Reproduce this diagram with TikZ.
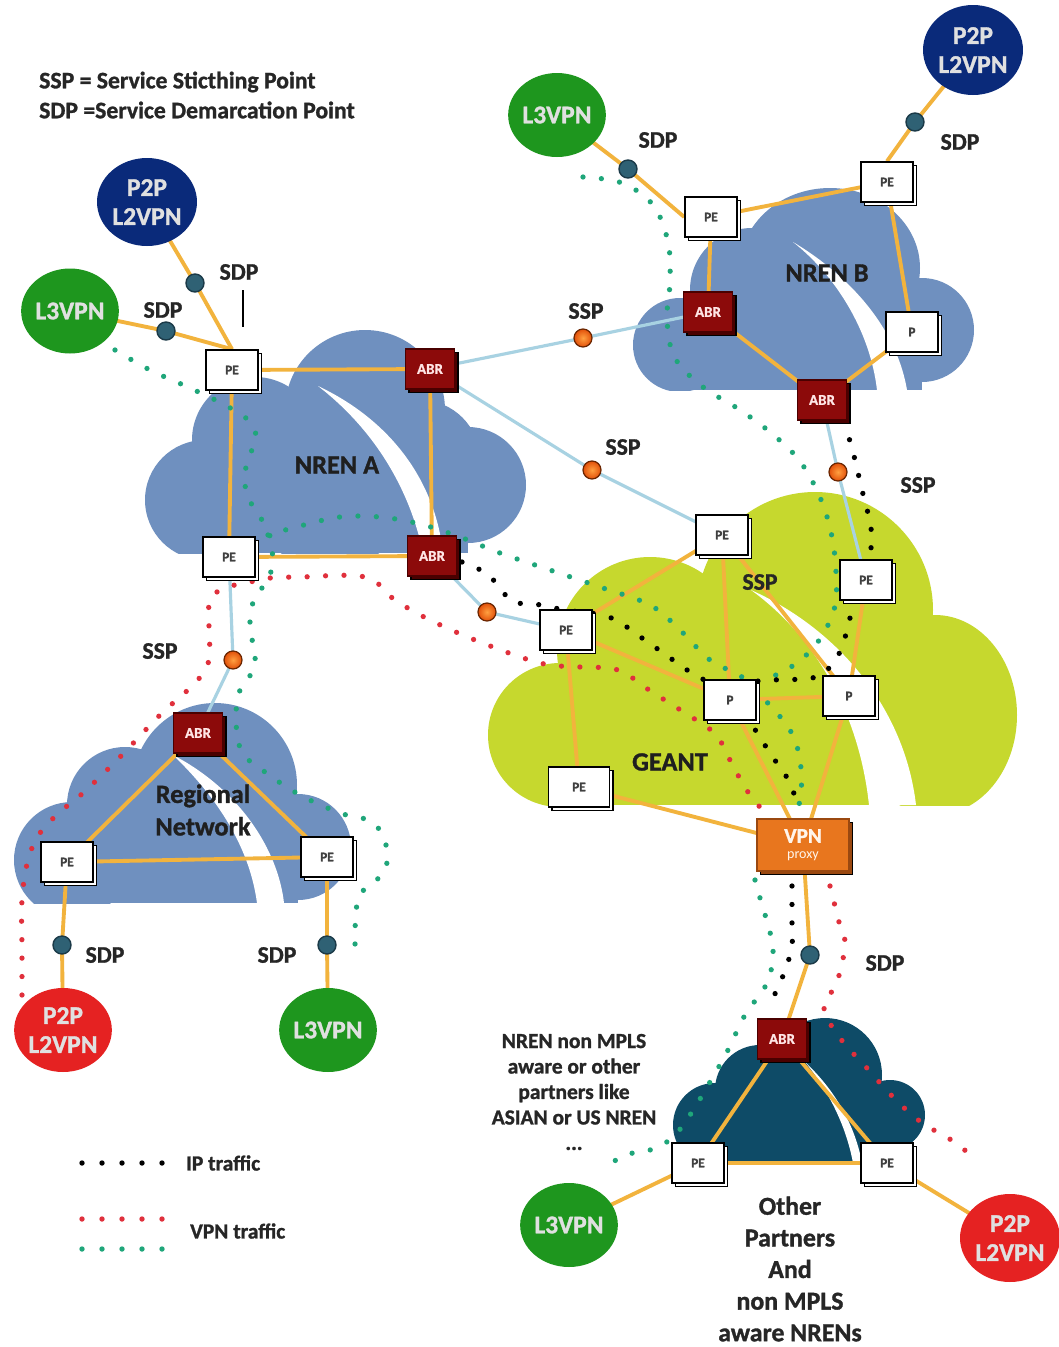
\documentclass[tikz,border=0pt]{standalone}
\usepackage{fontspec}
\setmainfont{Carlito}[BoldFont={Carlito Bold}, BoldFeatures={FakeBold=1.2}]
\usetikzlibrary{shapes.geometric,shadows}
\definecolor{cloudblue}{HTML}{6F90BF}
\definecolor{geant}{HTML}{C6D82E}
\definecolor{darkcloud}{HTML}{0E4B67}
\definecolor{linkor}{HTML}{F2B33D}
\definecolor{linkblue}{HTML}{A8D2E2}
\definecolor{navy}{HTML}{0A2A7A}
\definecolor{svcgreen}{HTML}{1E961E}
\definecolor{svcred}{HTML}{E52222}
\definecolor{abrred}{HTML}{8C0A0A}
\definecolor{abrshadow}{HTML}{4A0000}
\definecolor{vpnor}{HTML}{E8761E}
\definecolor{vpnshadow}{HTML}{9A4810}
\definecolor{sdpfill}{HTML}{2F6174}
\definecolor{sdpedge}{HTML}{1B3A48}
\definecolor{sspin}{HTML}{FFA040}
\definecolor{sspout}{HTML}{E2500A}
\definecolor{sspedge}{HTML}{6A2500}
\definecolor{dotgreen}{HTML}{1FA67A}
\definecolor{dotred}{HTML}{E0303C}
\definecolor{txtgray}{HTML}{262626}
\pgfdeclarelayer{clouds}
\pgfdeclarelayer{links}
\pgfsetlayers{clouds,links,main}
\begin{document}
\begin{tikzpicture}[x=0.02cm,y=-0.02cm,
 pebox/.style={draw=black, line width=0.9pt, fill=white, minimum width=1.04cm, minimum height=0.8cm, inner sep=0pt, font=\bfseries\fontsize{7.5}{9}\selectfont, text=black!75, copy shadow={shadow xshift=0.07cm, shadow yshift=-0.07cm}},
 abrbox/.style={draw=abrshadow, line width=0.6pt, fill=abrred, minimum width=0.98cm, minimum height=0.8cm, inner sep=0pt, font=\bfseries\fontsize{8.5}{10}\selectfont, text=white!90!red, general shadow={fill=abrshadow, draw=black, shadow xshift=0.07cm, shadow yshift=-0.07cm}},
 vpnbox/.style={draw=vpnshadow, line width=0.6pt, fill=vpnor, minimum width=1.84cm, minimum height=1.04cm, inner sep=0pt, align=center, font=\bfseries\fontsize{12}{12}\selectfont, text=white!92!orange, general shadow={fill=vpnshadow, draw=black, shadow xshift=0.07cm, shadow yshift=-0.07cm}},
 svc/.style={ellipse, inner sep=0pt, align=center, font=\bfseries\fontsize{14.5}{16.5}\selectfont, text=white!88!black},
 sdpdot/.style={circle, fill=sdpfill, draw=sdpedge, line width=0.8pt, minimum size=0.36cm, inner sep=0pt},
 sspdot/.style={circle, inner color=sspin, outer color=sspout, draw=sspedge, line width=0.7pt, minimum size=0.36cm, inner sep=0pt},
 olink/.style={draw=linkor, line width=2.2pt},
 blink/.style={draw=linkblue, line width=1.8pt},
 traffic/.style={line width=3pt, line cap=round, dash pattern=on 0pt off 10.5pt},
 lbl/.style={font=\bfseries\fontsize{13.5}{16}\selectfont, text=txtgray},
 cloudlbl/.style={font=\bfseries\fontsize{15}{18}\selectfont, text=black!88, align=center}
]
\useasboundingbox (0,0) rectangle (1059,1347);

% ---------- nodes ----------
\node[svc, fill=navy, minimum width=2.0cm, minimum height=1.76cm] (p2pA) at (147,202) {P2P\\L2VPN};
\node[svc, fill=svcgreen, minimum width=1.9cm, minimum height=1.7cm] (l3A) at (70,311) {L3VPN};
\node[sdpdot] (sdpA1) at (195,283) {};
\node[sdpdot] (sdpA2) at (166,331) {};
\node[pebox] (peA1) at (232,370) {PE};
\node[abrbox] (abrA1) at (430,369) {ABR};
\node[pebox] (peA2) at (229,557) {PE};
\node[abrbox] (abrA2) at (432,556) {ABR};
\node[sspdot] (sspA) at (583,338) {};
\node[sspdot] (sspG1) at (592,470) {};
\node[sspdot] (sspG3) at (487,612) {};
\node[sspdot] (sspR) at (233,660) {};
\node[sspdot] (sspB2) at (838,472) {};
\node[abrbox] (abrR) at (198,733) {ABR};
\node[pebox] (peR1) at (67,862) {PE};
\node[pebox] (peR2) at (327,857) {PE};
\node[sdpdot] (sdpR1) at (62,945) {};
\node[sdpdot] (sdpR2) at (327,945) {};
\node[svc, fill=svcred, minimum width=1.92cm, minimum height=1.68cm] (p2pR) at (63,1030) {P2P\\L2VPN};
\node[svc, fill=svcgreen, minimum width=1.92cm, minimum height=1.68cm] (l3R) at (328,1030) {L3VPN};
\node[svc, fill=svcgreen, minimum width=1.84cm, minimum height=1.68cm] (l3B) at (557,115) {L3VPN};
\node[sdpdot] (sdpB1) at (628,169) {};
\node[pebox] (peB1) at (711,217) {PE};
\node[pebox] (peB2) at (887,182) {PE};
\node[svc, fill=navy, minimum width=2.0cm, minimum height=1.8cm] (p2pB) at (973,50) {P2P\\L2VPN};
\node[sdpdot] (sdpB2) at (915,122) {};
\node[abrbox] (abrB1) at (708,312) {ABR};
\node[pebox] (pB) at (912,332) {P};
\node[abrbox] (abrB2) at (822,400) {ABR};
\node[pebox] (peG1) at (722,535) {PE};
\node[pebox] (peG2) at (866,580) {PE};
\node[pebox] (peG3) at (566,630) {PE};
\node[pebox] (pG1) at (730,700) {P};
\node[pebox] (pG2) at (849,696) {P};
\node[pebox, minimum width=1.22cm] (peG4) at (579,787) {PE};
\node[vpnbox] (vpn) at (803,845) {VPN\\[-3pt]{\mdseries\fontsize{8}{9}\selectfont proxy}};
\node[sdpdot] (sdpO) at (810,955) {};
\node[abrbox] (abrO) at (782,1039) {ABR};
\node[pebox] (peO1) at (698,1163) {PE};
\node[pebox] (peO2) at (887,1163) {PE};
\node[svc, fill=svcgreen, minimum width=1.92cm, minimum height=1.68cm] (l3O) at (569,1225) {L3VPN};
\node[svc, fill=svcred, minimum width=2.0cm, minimum height=1.76cm] (p2pO) at (1010,1238) {P2P\\L2VPN};

% ---------- texts ----------
\node[lbl, anchor=west] (t1) at (33,82) {SSP = Service Sticthing Point};
\node[lbl, anchor=west] (t2) at (33,110) {SDP =Service Demarcation Point};
\node[lbl] (sdl1) at (239,272) {SDP};
\node[lbl] (sdl2) at (163,310) {SDP};
\node[lbl] (sdl3) at (658,140) {SDP};
\node[lbl] (sdl4) at (960,142) {SDP};
\node[lbl] (sdl5) at (105,955) {SDP};
\node[lbl] (sdl6) at (277,955) {SDP};
\node[lbl] (sdl7) at (885,963) {SDP};
\node[lbl] (ssl1) at (586,311) {SSP};
\node[lbl] (ssl2) at (623,447) {SSP};
\node[lbl] (ssl3) at (918,485) {SSP};
\node[lbl] (ssl4) at (760,582) {SSP};
\node[lbl] (ssl5) at (160,651) {SSP};
\node[cloudlbl] (nA) at (337,465) {NREN A};
\node[cloudlbl] (nB) at (827,273) {NREN B};
\node[cloudlbl] (nG) at (670,762) {GEANT};
\node[cloudlbl, font=\bfseries\fontsize{15}{18.5}\selectfont] (nR) at (203,810) {Regional\\Network};
\node[font=\bfseries\fontsize{12.2}{14.5}\selectfont, text=txtgray, align=center] (nonm) at (574,1092) {NREN non MPLS\\aware or other\\partners like\\ASIAN or US NREN\\...};
\node[font=\bfseries\fontsize{14.7}{18}\selectfont, text=txtgray, align=center] (oth) at (790,1269) {Other\\Partners\\And\\non MPLS\\aware NRENs};
\node[font=\bfseries\fontsize{12.2}{14}\selectfont, text=txtgray, anchor=west] (lg1) at (180,1163) {IP traffic};
\node[font=\bfseries\fontsize{12.2}{14}\selectfont, text=txtgray, anchor=west] (lg2) at (184,1231) {VPN traffic};

% ---------- clouds ----------
\begin{pgfonlayer}{clouds}
\fill[white] (0,0) rectangle (1059,1347);
% NREN A
\begin{scope}[fill=cloudblue]
\clip (100,300) rectangle (560,553);
\fill (205,500) circle[radius=60];
\fill (255,440) circle[radius=63];
\fill (365,410) circle[radius=80];
\fill (468,485) circle[radius=58];
\fill (420,460) circle[radius=60];
\fill (330,490) circle[radius=80];
\fill (205,480) rectangle (468,553);
\end{scope}
\fill[white] (318,386) .. controls (390,420) and (435,480) .. (443,553) -- (423,553) .. controls (410,490) and (375,430) .. (318,386) -- cycle;
% NREN B
\begin{scope}[fill=cloudblue]
\clip (600,150) rectangle (1000,390);
\fill (680,345) circle[radius=47];
\fill (752,290) circle[radius=62];
\fill (830,268) ellipse[x radius=90, y radius=80];
\fill (922,330) circle[radius=52];
\fill (680,330) rectangle (922,390);
\end{scope}
\fill[white] (793,242) .. controls (840,270) and (895,320) .. (907,390) -- (877,390) .. controls (870,330) and (835,275) .. (793,242) -- cycle;
% GEANT
\begin{scope}[fill=geant]
\clip (450,450) rectangle (1050,805);
\fill (560,735) circle[radius=72];
\fill (650,650) circle[radius=93];
\fill (815,610) circle[radius=118];
\fill (935,715) ellipse[x radius=82, y radius=100];
\fill (560,700) rectangle (935,805);
\end{scope}
\fill[white] (751,590) .. controls (840,630) and (905,710) .. (916,805) -- (869,805) .. controls (860,720) and (820,640) .. (751,590) -- cycle;
% Regional
\begin{scope}[fill=cloudblue]
\clip (0,680) rectangle (400,903);
\fill (72,860) circle[radius=58];
\fill (125,805) circle[radius=58];
\fill (215,785) circle[radius=82];
\fill (298,847) circle[radius=53];
\fill (72,840) rectangle (298,903);
\end{scope}
\fill[white] (173,755) .. controls (240,790) and (278,850) .. (284,903) -- (257,903) .. controls (250,850) and (220,800) .. (173,755) -- cycle;
% Other partners
\begin{scope}[fill=darkcloud]
\clip (640,990) rectangle (960,1163);
\fill (715,1125) circle[radius=42];
\fill (760,1090) circle[radius=45];
\fill (825,1075) circle[radius=57];
\fill (890,1115) circle[radius=35];
\fill (715,1100) rectangle (890,1163);
\end{scope}
\fill[white] (805,1062) .. controls (835,1090) and (855,1125) .. (862,1163) -- (853,1163) .. controls (846,1125) and (828,1090) .. (805,1062) -- cycle;
\end{pgfonlayer}

% ---------- links & traffic ----------
\begin{pgfonlayer}{links}
% NREN A
\draw[olink] (peA1.center) -- (abrA1.center);
\draw[olink] (peA1.center) -- (peA2.center);
\draw[olink] (abrA1.center) -- (abrA2.center);
\draw[olink] (peA2.center) -- (abrA2.center);
\draw[olink] (l3A.center) -- (sdpA2.center) -- (peA1.north);
\draw[olink] (p2pA.center) -- (sdpA1.center) -- (peA1.north);
% inter-domain
\draw[blink] (abrA1.center) -- (sspA.center) -- (abrB1.center);
\draw[blink] (abrA1.center) -- (sspG1.center) -- (peG1.center);
\draw[blink] (abrA2.center) -- (sspG3.center) -- (peG3.center);
\draw[blink] (peA2.center) -- (sspR.center) -- (abrR.center);
\draw[blink] (abrB2.center) -- (sspB2.center) -- (peG2.center);
% NREN B
\draw[olink] (l3B.center) -- (sdpB1.center) -- (peB1.west);
\draw[olink] (p2pB.center) -- (sdpB2.center) -- (peB2.north);
\draw[olink] (peB1.center) -- (peB2.center);
\draw[olink] (peB2.center) -- (pB.center);
\draw[olink] (peB1.center) -- (abrB1.center);
\draw[olink] (abrB1.center) -- (abrB2.center);
\draw[olink] (pB.center) -- (abrB2.center);
% GEANT
\draw[olink] (peG3.center) -- (peG1.center);
\draw[olink] (peG1.center) -- (pG1.center);
\draw[olink] (peG3.center) -- (pG1.center);
\draw[olink] (peG3.center) -- (peG4.center);
\draw[olink] (peG2.center) -- (pG2.center);
\draw[olink] (pG1.center) -- (pG2.center);
\draw[olink] (peG1.center) -- (pG2.center);
\draw[olink] (pG1.center) -- (vpn.center);
\draw[olink] (pG2.center) -- (vpn.center);
\draw[olink] (peG4.center) -- (vpn.center);
% Regional
\draw[olink] (abrR.center) -- (peR1.center);
\draw[olink] (abrR.center) -- (peR2.center);
\draw[olink] (peR1.center) -- (peR2.center);
\draw[olink] (peR1.center) -- (sdpR1.center) -- (p2pR.center);
\draw[olink] (peR2.center) -- (sdpR2.center) -- (l3R.center);
% Other partners
\draw[olink] (vpn.center) -- (sdpO.center) -- (abrO.center);
\draw[olink] (abrO.center) -- (peO1.center);
\draw[olink] (abrO.center) -- (peO2.center);
\draw[olink] (peO1.center) -- (peO2.center);
\draw[olink] (peO1.center) -- (l3O.center);
\draw[olink] (peO2.center) -- (p2pO.center);
% tick
\draw[black, line width=1pt] (243,290) -- (243,327);

% traffic: green (L3VPN)
\draw[traffic, draw=dotgreen] plot[smooth, tension=0.6] coordinates {(115,350) (150,370) (190,388) (225,405) (248,420) (256,438) (247,462) (245,485) (252,505) (265,525) (272,545) (270,575) (254,600) (250,625) (255,665) (240,690) (236,720) (242,752) (265,772) (300,795) (340,813) (372,822) (386,845) (384,872) (360,895) (355,930) (356,958)};
\draw[traffic, draw=dotgreen] plot[smooth, tension=0.6] coordinates {(268,535) (300,526) (340,517) (380,517) (420,524) (460,537) (500,553) (550,570) (600,587) (650,605) (680,630) (710,660) (742,677) (765,700) (790,730) (800,760) (801,795) (795,815)};
\draw[traffic, draw=dotgreen] plot[smooth, tension=0.6] coordinates {(583,177) (622,183) (653,205) (668,242) (670,282) (667,320) (675,358) (703,387) (737,408) (770,432) (799,460) (819,495) (831,532) (836,572) (834,610) (814,647) (783,672) (760,678)};
\draw[traffic, draw=dotgreen] plot[smooth, tension=0.6] coordinates {(755,880) (762,905) (770,932) (773,957) (766,985) (745,1015) (728,1050) (710,1082) (690,1115) (672,1138) (650,1150) (625,1155) (605,1168)};
% traffic: red (P2P)
\draw[traffic, draw=dotred] plot[smooth, tension=0.6] coordinates {(22,995) (22,950) (22,900) (28,860) (40,833) (60,812) (83,793) (120,757) (160,715) (196,682) (209,660) (209,630) (210,600) (225,588) (250,582) (270,578) (300,577) (365,577) (395,600) (430,620) (480,642) (540,663) (580,667) (618,670) (652,692) (685,713) (716,735) (735,770) (755,802) (772,815)};
\draw[traffic, draw=dotred] plot[smooth, tension=0.6] coordinates {(830,886) (840,926) (845,945) (837,982) (824,1008) (840,1038) (866,1067) (893,1097) (921,1122) (956,1143) (975,1160)};
% traffic: black (IP)
\draw[traffic, draw=black] plot[smooth, tension=0.6] coordinates {(462,562) (486,573) (500,588) (513,602) (535,604) (565,610) (609,617) (642,638) (676,662) (705,680) (740,682) (772,680) (812,678) (829,668) (842,647) (853,607) (862,585) (870,555) (871,528) (862,490) (853,452) (845,425)};
\draw[traffic, draw=black] plot[smooth, tension=0.6] coordinates {(745,715) (760,737) (771,755) (783,771) (792,788) (797,805)};
\draw[traffic, draw=black] plot[smooth, tension=0.6] coordinates {(792,886) (792,926) (792,946) (787,965) (780,983) (772,1000)};
\end{pgfonlayer}

% legend dots
\foreach \xx in {82,102,122,142,162} {
  \fill[black] (\xx,1163) circle[radius=2.7];
  \fill[dotred] (\xx,1219) circle[radius=2.7];
  \fill[dotgreen] (\xx,1249) circle[radius=2.7];
}
\end{tikzpicture}
\end{document}
